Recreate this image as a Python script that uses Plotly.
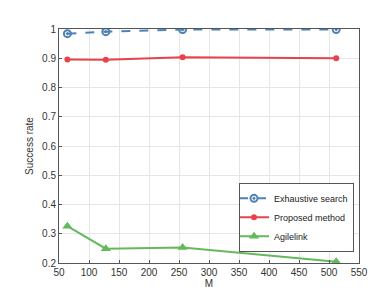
import plotly.graph_objects as go

M = [64, 128, 256, 512]
exhaustive = [0.984, 0.991, 0.998, 0.998]
proposed = [0.896, 0.895, 0.903, 0.900]
agilelink = [0.326, 0.249, 0.253, 0.204]

x_ticks = [50, 100, 150, 200, 250, 300, 350, 400, 450, 500, 550]
y_ticks = [0.2, 0.3, 0.4, 0.5, 0.6, 0.7, 0.8, 0.9, 1]
y_tick_text = ["0.2", "0.3", "0.4", "0.5", "0.6", "0.7", "0.8", "0.9", "1"]

fig = go.Figure()
fig.add_trace(go.Scatter(x=M, y=exhaustive, name="Exhaustive search", mode="lines+markers",
                         line=dict(color="#4d82b4", width=2, dash="dash"),
                         marker=dict(symbol="circle-open-dot", size=7, color="#4d82b4", line=dict(width=2))))
fig.add_trace(go.Scatter(x=M, y=proposed, name="Proposed method", mode="lines+markers",
                         line=dict(color="#e8434a", width=2),
                         marker=dict(symbol="circle", size=6, color="#e8434a")))
fig.add_trace(go.Scatter(x=M, y=agilelink, name="Agilelink", mode="lines+markers",
                         line=dict(color="#64b95c", width=2),
                         marker=dict(symbol="triangle-up", size=9, color="#64b95c")))

axis_common = dict(showline=True, linecolor="#555555", linewidth=1, mirror=True,
                   ticks="inside", ticklen=3, tickcolor="#555555",
                   showgrid=True, gridcolor="#e6e6e6", gridwidth=1, zeroline=False,
                   tickfont=dict(family="Liberation Sans, Arial", size=10, color="#333333"))

fig.update_layout(
    width=388, height=291,
    margin=dict(l=51, r=37, t=21, b=33),
    plot_bgcolor="white", paper_bgcolor="white",
    xaxis=dict(range=[50, 550], tickvals=x_ticks,
               title=dict(text="M", font=dict(family="Liberation Sans, Arial", size=10, color="#333333"), standoff=2),
               **axis_common),
    yaxis=dict(range=[0.2, 1], tickvals=y_ticks, ticktext=y_tick_text,
               title=dict(text="Success rate", font=dict(family="Liberation Sans, Arial", size=10, color="#333333"), standoff=6),
               **axis_common),
    legend=dict(x=0.6, y=0.195, xanchor="left", yanchor="middle",
                bgcolor="white", bordercolor="#555555", borderwidth=1,
                font=dict(family="Liberation Sans, Arial", size=9, color="#222222"),
                tracegroupgap=0, itemwidth=30, indentation=-6),
    showlegend=True,
)

fig.write_html("out.html")
